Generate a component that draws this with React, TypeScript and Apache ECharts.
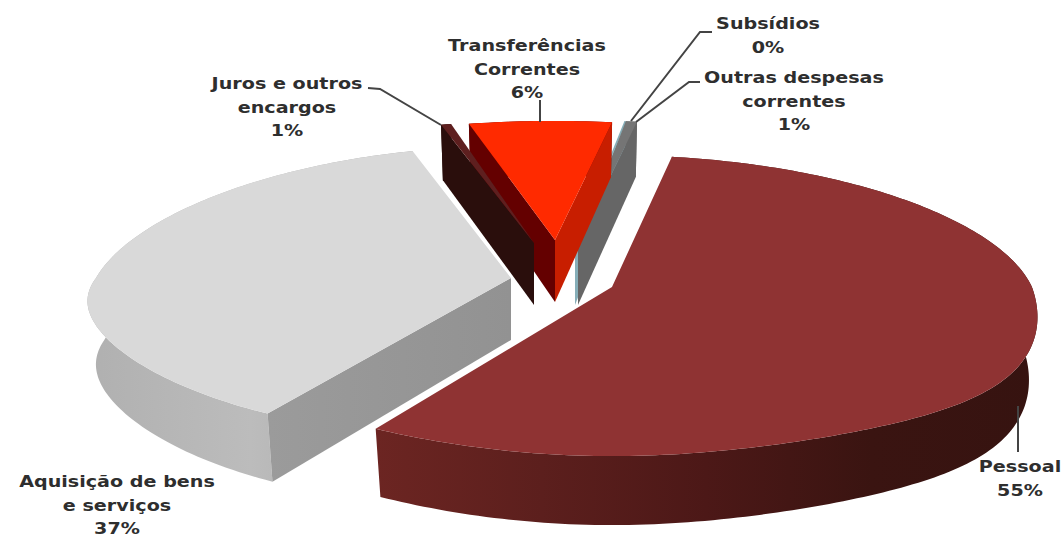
import React, { useEffect, useRef } from "react";
import * as echarts from "echarts";

// ---- data ----
const categories = ["Pessoal", "Aquisição de bens e serviços", "Juros e outros encargos", "Transferências Correntes", "Subsídios", "Outras despesas correntes"];
const shares = [55.4, 37.4, 0.5, 6.1, 0.1, 0.5];
const labelLines = [
  ["Pessoal"],
  ["Aquisição de bens", "e serviços"],
  ["Juros e outros", "encargos"],
  ["Transferências", "Correntes"],
  ["Subsídios"],
  ["Outras despesas", "correntes"],
];

// ---- layout and style ----
const START_DEG = 9.5;
const drawOrder = [4, 5, 3, 1, 2, 0];
const geom = [
  { tx: 612, ty: 287, a: 420, b: 145, rot: 0, p: 0.16, bump: 8, skew: 42 },
  { tx: 511, ty: 278, a: 415, b: 145, rot: 0, p: 0.2, bump: 0, skew: -35 },
  { tx: 534, ty: 243, a: 392, b: 135, rot: 0, p: 0.2, bump: 0, skew: 0 },
  { tx: 555, ty: 240, a: 450, b: 131, rot: 1.4, p: 0.2, bump: 0, skew: 0 },
  { tx: 575, ty: 243, a: 428, b: 135, rot: 0.6, p: 0.2, bump: 0, skew: 0 },
  { tx: 578, ty: 243, a: 428, b: 135, rot: 0, p: 0.2, bump: 0, skew: 0 },
];
const gradient = (stops: string[]) =>
  new echarts.graphic.LinearGradient(0, 0, 1, 0, stops.map((color, i) => ({ offset: i / (stops.length - 1), color })));
const fills: any[] = [
  { top: "#8f3333", start: "#3a1410", end: "#3a1410", arc: gradient(["#6c2522", "#5c1f1d", "#4c1817", "#3a1411", "#361310"]) },
  { top: "#d9d9d9", start: gradient(["#9b9b9b", "#929292"]), end: "#999999", arc: gradient(["#b0b0b0", "#bcbcbc", "#a6a6a6"]) },
  { top: "#5e1f1f", start: "#2a0e0c", end: "#2a0e0c", arc: "#2a0e0c" },
  { top: "#ff2a00", start: "#640000", end: "#c81e00", arc: "#640000" },
  { top: "#86aeb8", start: "#86aeb8", end: "#86aeb8", arc: "#86aeb8" },
  { top: "#757575", start: "#666666", end: "#666666", arc: "#666666" },
];
const labelPos = [
  { x: 1020, y: 466 },
  { x: 117, y: 481 },
  { x: 287, y: 83 },
  { x: 527, y: 45 },
  { x: 768, y: 23 },
  { x: 794, y: 77 },
];
const leaders = [
  [[1018, 406], [1018, 452]],
  [],
  [[368, 88], [380, 89], [441, 125]],
  [[540, 100], [540, 122]],
  [[712, 32], [700, 32], [631, 121]],
  [[700, 82], [689, 82], [636, 122]],
];
const Q = 0.1;
const LINE_H = 23.5;

function project(i: number, deg: number) {
  const g = geom[i];
  const t = ((deg + g.rot) * Math.PI) / 180;
  const X = Math.sin(t);
  const Y = -Math.cos(t);
  const px = g.tx + (g.a * X) / (1 - g.p * Y);
  const skewTerm = X * g.skew > 0 ? g.skew * Math.pow(Math.abs(X), 3) * Math.max(0, Y) : 0;
  const py = g.ty + (g.b * Y) / (1 - Q * Y) + g.bump * Math.pow(Math.max(0, Y), 8) + skewTerm;
  return { px, py, Y };
}
function lower(i: number, p: { px: number; py: number; Y: number }) {
  const g = geom[i];
  return [g.tx + (p.px - g.tx) * 0.98, p.py + 62 + 7 * p.Y];
}

const total = shares.reduce((s, v) => s + v, 0);
const starts: number[] = [];
shares.reduce((acc, v, i) => {
  starts[i] = acc;
  return acc + v;
}, 0);

function renderSlice(params: any, api: any) {
  const i = api.value(2) as number;
  const from = START_DEG + (api.value(1) / total) * 360;
  const span = (api.value(0) / total) * 360;
  const steps = Math.max(2, Math.ceil(span));
  const arc = [];
  for (let k = 0; k <= steps; k++) arc.push(project(i, from + (span * k) / steps));
  const g = geom[i];
  const tip = [g.tx, g.ty];
  const tipLow = [g.tx, g.ty + 62];
  const top = arc.map((p) => [p.px, p.py]);
  const low = arc.map((p) => lower(i, p));
  const children: any[] = [];
  const add = (points: number[][], fill: any) =>
    children.push({ type: "polygon", shape: { points }, style: { fill, stroke: null } });
  add([...top, ...low.slice().reverse()], fills[i].arc);
  const s = arc[0];
  const e = arc[arc.length - 1];
  if (e.px > g.tx) add([tip, top[top.length - 1], low[low.length - 1], tipLow], fills[i].end);
  if (s.px < g.tx) add([tip, top[0], low[0], tipLow], fills[i].start);
  add([tip, ...top], fills[i].top);
  return { type: "group", children };
}

export default function App() {
  const ref = useRef<HTMLDivElement>(null);
  useEffect(() => {
    document.body.style.margin = "0";
    const chart = echarts.init(ref.current!, undefined, { renderer: "svg" });
    const graphics: any[] = [];
    leaders.forEach((pts) => {
      if (pts.length)
        graphics.push({ type: "polyline", z: 10, shape: { points: pts }, style: { stroke: "#444444", lineWidth: 2, fill: null } });
    });
    labelLines.forEach((lines, i) => {
      const all = [...lines, `${Math.round(shares[i])}%`];
      all.forEach((text, k) => {
        graphics.push({
          type: "text",
          z: 11,
          x: labelPos[i].x,
          y: labelPos[i].y + k * LINE_H,
          scaleX: 1.16,
          style: {
            text,
            fill: "#2e2e2e",
            font: 'bold 16.5px "DejaVu Sans"',
            textAlign: "center",
            textVerticalAlign: "middle",
          },
        });
      });
    });
    chart.setOption({
      animation: false,
      backgroundColor: "#ffffff",
      graphic: graphics,
      series: [
        {
          type: "custom",
          coordinateSystem: "none",
          silent: true,
          renderItem: renderSlice,
          data: drawOrder.map((i) => ({ name: categories[i], value: [shares[i], starts[i], i] })),
        },
      ],
    });
    return () => chart.dispose();
  }, []);
  return <div ref={ref} style={{ width: 1063, height: 538 }} />;
}
